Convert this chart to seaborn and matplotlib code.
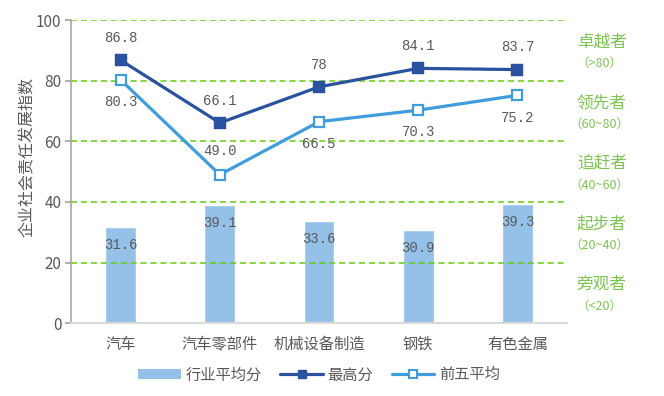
import matplotlib
matplotlib.use("Agg")
import matplotlib.pyplot as plt
import seaborn as sns
import pandas as pd
from matplotlib.patches import Patch
from matplotlib.lines import Line2D

categories = ["汽车", "汽车零部件", "机械设备制造", "钢铁", "有色金属"]
avg_scores = [31.6, 39.1, 33.6, 30.9, 39.3]
max_scores = [86.8, 66.1, 78, 84.1, 83.7]
top5_scores = [80.3, 49.0, 66.5, 70.3, 75.2]
max_labels = ["86.8", "66.1", "78", "84.1", "83.7"]
top5_labels = ["80.3", "49.0", "66.5", "70.3", "75.2"]
avg_labels = ["31.6", "39.1", "33.6", "30.9", "39.3"]
top5_above = [False, True, False, False, False]
tiers = [("卓越者", "（>80）", 90), ("领先者", "（60~80）", 70), ("追赶者", "（40~60）", 50),
         ("起步者", "（20~40）", 30), ("旁观者", "（<20）", 10)]
yticks = [0, 20, 40, 60, 80, 100]

sns.set_theme(style="white")
plt.rcParams['font.family'] = ['Noto Sans CJK SC', 'DejaVu Sans']

bar_c = "#95C1E8"
max_c = "#2A529E"
top_c = "#3F9CDD"
green = "#66CC11"
txt_green = "#7DC452"
grey = "#595959"

df = pd.DataFrame({"cat": categories, "avg": avg_scores, "max": max_scores, "top5": top5_scores})

fig = plt.figure(figsize=(6.64, 3.96), dpi=100)
ax = fig.add_axes([0.107, 0.184, 0.747, 0.765])

sns.barplot(data=df, x="cat", y="avg", color=bar_c, width=0.31, saturation=1, ax=ax, zorder=1)
for y in yticks[1:]:
    ax.axhline(y, color=green, lw=1.1, ls=(0, (4, 2.5)), zorder=2)
sns.pointplot(data=df, x="cat", y="max", color=max_c, markers="s", linewidth=2.3,
              markersize=7.5, ax=ax, zorder=4)
sns.pointplot(data=df, x="cat", y="top5", color=top_c, markers="s", linewidth=2.3,
              markersize=7.5, markerfacecolor="white", markeredgewidth=1.6, ax=ax, zorder=5)

mono = ['Liberation Mono']
for i, (v, t) in enumerate(zip(max_scores, max_labels)):
    ax.annotate(t, (i, v), xytext=(0, 16), textcoords="offset points", ha="center",
                va="center", fontsize=10, color=grey, family=mono)
for i, (v, t, up) in enumerate(zip(top5_scores, top5_labels, top5_above)):
    ax.annotate(t, (i, v), xytext=(0, 17 if up else -16), textcoords="offset points",
                ha="center", va="center", fontsize=10, color=grey, family=mono)
for i, (v, t) in enumerate(zip(avg_scores, avg_labels)):
    ax.annotate(t, (i, v), xytext=(0, -13), textcoords="offset points", ha="center",
                va="center", fontsize=10, color=grey, family=mono)

ax.set_xlim(-0.5, 4.5)
ax.set_ylim(0, 100)
ax.set_yticks(yticks)
ax.set_xlabel("")
ax.set_ylabel("企业社会责任发展指数", fontsize=11.5, color=grey)
ax.yaxis.set_label_coords(-0.071, 0.55)
ax.tick_params(axis="y", left=True, length=4, color="#A6A6A6", labelsize=11, labelcolor=grey, pad=3)
ax.tick_params(axis="x", bottom=False, labelsize=11, labelcolor=grey, pad=3)
for s in ["top", "right"]:
    ax.spines[s].set_visible(False)
ax.spines["left"].set_color("#A6A6A6")
ax.spines["bottom"].set_color("#D9D9D9")
ax.spines["left"].set_linewidth(1.2)
ax.spines["bottom"].set_linewidth(1.5)

for name, rng, yc in tiers:
    ax.annotate(name, (1.0, yc), xycoords=("axes fraction", "data"), xytext=(25, 6),
                textcoords="offset points", ha="center", va="center", fontsize=12, color=txt_green)
    ax.annotate(rng, (1.0, yc), xycoords=("axes fraction", "data"), xytext=(23, -9.5),
                textcoords="offset points", ha="center", va="center", fontsize=9, color=txt_green)

handles = [Patch(facecolor=bar_c, edgecolor="none"),
           Line2D([], [], color=max_c, lw=2.3, marker="s", markersize=6),
           Line2D([], [], color=top_c, lw=2.3, marker="s", markersize=6, markerfacecolor="white",
                  markeredgewidth=1.5)]
leg = ax.legend(handles, ["行业平均分", "最高分", "前五平均"], loc="center", ncol=3,
                bbox_to_anchor=(0.5, -0.171), frameon=False, fontsize=11, handlelength=2.8,
                handleheight=0.55, columnspacing=1.2, handletextpad=0.3)
for t in leg.get_texts():
    t.set_color(grey)

fig.savefig("out.png", dpi=100)
